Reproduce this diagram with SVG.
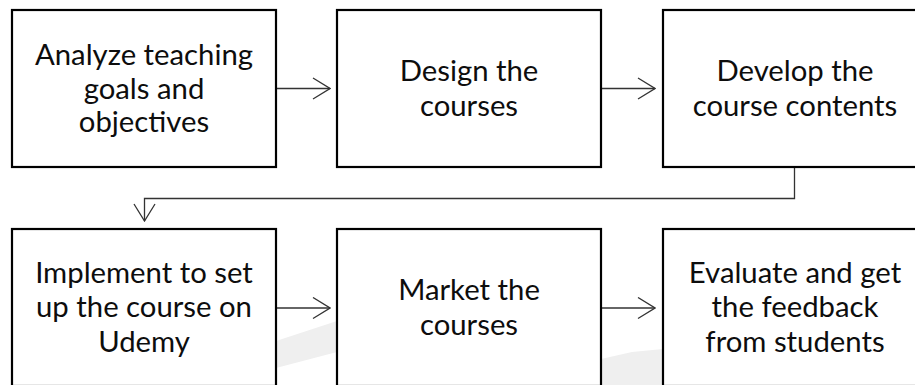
<svg xmlns="http://www.w3.org/2000/svg" width="915" height="385" viewBox="0 0 915 385">
  <style>
    .box { fill: #ffffff; stroke: #000000; stroke-width: 2.2; }
    .label { font-family: "Lato", "Liberation Sans", sans-serif; font-size: 29.3px; fill: #0d0d0d; text-anchor: middle; }
    .link { fill: none; stroke: #333333; stroke-width: 1.3; }
    .mark { fill: #efefef; }
  </style>
  <defs>
    <marker id="open-arrow" markerUnits="userSpaceOnUse" viewBox="0 0 19 23" refX="18" refY="11.5" markerWidth="19" markerHeight="23" orient="auto">
      <path d="M1,1 L18,11.5 L1,22" fill="none" stroke="#333333" stroke-width="1.3"/>
    </marker>
  </defs>

  <!-- faint background swoosh -->
  <g id="backdrop">
    <polygon class="mark" points="276,341 337,321 337,352 276,368"/>
    <polygon class="mark" points="601,359 632,352 663,349 663,385 601,385"/>
  </g>

  <!-- connectors -->
  <g id="connectors">
    <path class="link" d="M277,88.5 H330" marker-end="url(#open-arrow)"/>
    <path class="link" d="M602,88.5 H655" marker-end="url(#open-arrow)"/>
    <path class="link" d="M794.5,168 V198.5 H144.5 V221" marker-end="url(#open-arrow)"/>
    <path class="link" d="M277,308 H330" marker-end="url(#open-arrow)"/>
    <path class="link" d="M602,308 H655" marker-end="url(#open-arrow)"/>
  </g>

  <g id="analyze">
    <rect class="box" x="12" y="10" width="264" height="157"/>
    <text class="label" x="144"><tspan x="144" y="64.5">Analyze teaching</tspan><tspan x="144" y="98.5">goals and</tspan><tspan x="144" y="132">objectives</tspan></text>
  </g>

  <g id="design">
    <rect class="box" x="337" y="10" width="264" height="157"/>
    <text class="label" x="469"><tspan x="469" y="81">Design the</tspan><tspan x="469" y="115.5">courses</tspan></text>
  </g>

  <g id="develop">
    <rect class="box" x="663" y="10" width="264" height="157"/>
    <text class="label" x="795"><tspan x="795" y="81">Develop the</tspan><tspan x="795" y="115.5">course contents</tspan></text>
  </g>

  <g id="implement">
    <rect class="box" x="12" y="229" width="264" height="157"/>
    <text class="label" x="144"><tspan x="144" y="283">Implement to set</tspan><tspan x="144" y="317">up the course on</tspan><tspan x="144" y="351.5">Udemy</tspan></text>
  </g>

  <g id="market">
    <rect class="box" x="337" y="229" width="264" height="157"/>
    <text class="label" x="469"><tspan x="469" y="300">Market the</tspan><tspan x="469" y="335">courses</tspan></text>
  </g>

  <g id="evaluate">
    <rect class="box" x="663" y="229" width="264" height="157"/>
    <text class="label" x="795"><tspan x="795" y="283">Evaluate and get</tspan><tspan x="795" y="317">the feedback</tspan><tspan x="795" y="351.5">from students</tspan></text>
  </g>
</svg>
